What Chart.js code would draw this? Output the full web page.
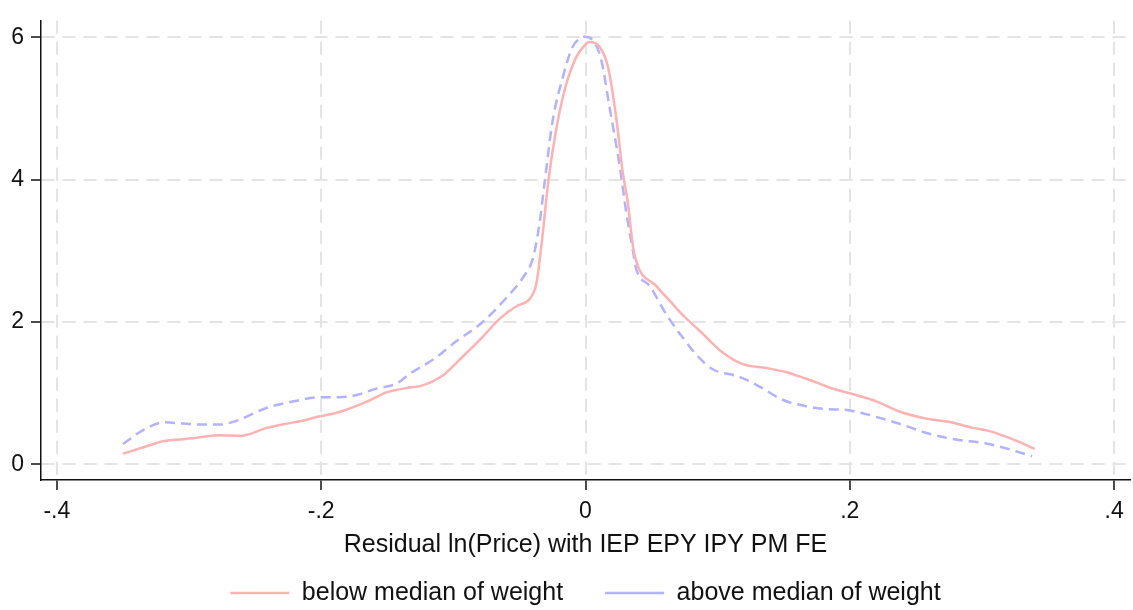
<!DOCTYPE html>
<html>
<head>
<meta charset="utf-8">
<script src="https://cdn.jsdelivr.net/npm/chart.js@4"></script>
<style>
  body { margin: 0; background: #fff; }
  canvas { display: block; }
</style>
</head>
<body>
<canvas id="canvas" width="1133" height="610"></canvas>
<script>
// kernel density, below median of weight
const belowX = [-0.350, -0.335, -0.319, -0.304, -0.292, -0.277, -0.261, -0.241, -0.226, -0.214,
  -0.201, -0.186, -0.166, -0.151, -0.141, -0.133, -0.125, -0.108, -0.095, -0.080,
  -0.065, -0.052, -0.038, -0.033, -0.028, -0.022, -0.015, -0.007, -0.001, 0.003,
  0.011, 0.017, 0.023, 0.028, 0.032, 0.035, 0.037, 0.054, 0.064, 0.074,
  0.086, 0.104, 0.119, 0.137, 0.152, 0.167, 0.177, 0.185, 0.200, 0.220,
  0.238, 0.260, 0.275, 0.293, 0.306, 0.323, 0.340];
const belowY = [0.150, 0.236, 0.327, 0.354, 0.381, 0.409, 0.399, 0.512, 0.572, 0.613,
  0.675, 0.735, 0.876, 1.008, 1.053, 1.080, 1.098, 1.247, 1.475, 1.747,
  2.043, 2.224, 2.473, 3.132, 3.994, 4.720, 5.311, 5.720, 5.878, 5.932,
  5.856, 5.584, 4.903, 4.130, 3.680, 3.200, 2.950, 2.496, 2.292, 2.088,
  1.883, 1.566, 1.407, 1.352, 1.294, 1.202, 1.134, 1.076, 0.998, 0.885,
  0.739, 0.635, 0.599, 0.512, 0.467, 0.354, 0.218];

// kernel density, above median of weight
const aboveX = [-0.350, -0.335, -0.319, -0.304, -0.289, -0.277, -0.264, -0.241, -0.221, -0.201,
  -0.186, -0.173, -0.158, -0.143, -0.133, -0.115, -0.098, -0.078, -0.060, -0.047,
  -0.040, -0.035, -0.031, -0.025, -0.017, -0.010, -0.003, -0.001, 0.006, 0.012,
  0.018, 0.026, 0.031, 0.036, 0.038, 0.049, 0.061, 0.074, 0.086, 0.096,
  0.117, 0.132, 0.149, 0.167, 0.180, 0.200, 0.217, 0.238, 0.260, 0.280,
  0.303, 0.318, 0.338];
const aboveY = [0.286, 0.477, 0.590, 0.572, 0.558, 0.558, 0.613, 0.794, 0.885, 0.944,
  0.944, 0.975, 1.066, 1.134, 1.271, 1.475, 1.724, 1.996, 2.337, 2.632,
  2.882, 3.358, 3.949, 4.811, 5.447, 5.856, 5.992, 6.006, 5.946, 5.673,
  5.039, 4.175, 3.520, 2.990, 2.770, 2.496, 2.110, 1.770, 1.498, 1.339,
  1.226, 1.089, 0.907, 0.817, 0.780, 0.757, 0.681, 0.567, 0.430, 0.349,
  0.294, 0.226, 0.113];

const seriesNames = ["below median of weight", "above median of weight"];
const xTicks = [-0.4, -0.2, 0, 0.2, 0.4];
const yTicks = [0, 2, 4, 6];
const xTitle = "Residual ln(Price) with IEP EPY IPY PM FE";

const FONT = "'Liberation Sans', Arial, sans-serif";
const ink = "#111";
const gridGrey = "#e4e4e4";

function toPoints(xs, ys) {
    return xs.map((x, i) => ({ x: x, y: ys[i] }));
}

// Stata style labels: -.4, -.2, 0, .2, .4
function stataLabel(v) {
    if (v === 0) return "0";
    return String(Math.round(v * 10) / 10).replace("0.", ".");
}

const ctx = document.getElementById("canvas").getContext("2d");

new Chart(ctx, {
    type: "line",
    data: {
        datasets: [{
            label: seriesNames[0],
            data: toPoints(belowX, belowY),
            borderColor: "rgb(255, 178, 178)",
            borderWidth: 2.5,
            pointRadius: 0,
            fill: false,
            cubicInterpolationMode: "monotone"
        }, {
            label: seriesNames[1],
            data: toPoints(aboveX, aboveY),
            borderColor: "rgb(178, 178, 255)",
            borderWidth: 2.5,
            borderDash: [10, 6],
            pointRadius: 0,
            fill: false,
            cubicInterpolationMode: "monotone"
        }]
    },
    options: {
        responsive: false,
        animation: false,
        devicePixelRatio: 1,
        layout: {
            padding: { left: 0, right: 3, top: 6, bottom: 0 }
        },
        plugins: {
            tooltip: { enabled: false },
            legend: {
                position: "bottom",
                fullSize: false,
                maxHeight: 71.5,
                labels: {
                    usePointStyle: true,
                    pointStyle: "line",
                    pointStyleWidth: 59,
                    padding: 42,
                    color: ink,
                    font: { family: FONT, size: 25 }
                }
            }
        },
        scales: {
            x: {
                type: "linear",
                min: -0.412,
                max: 0.412,
                afterBuildTicks: (scale) => {
                    scale.ticks = xTicks.map(v => ({ value: v }));
                },
                afterFit: (scale) => {
                    scale.height = 58.5;
                },
                grid: {
                    color: gridGrey,
                    lineWidth: 2,
                    tickColor: ink,
                    tickWidth: 1.5,
                    tickLength: 10,
                    tickBorderDash: []
                },
                border: {
                    display: true,
                    color: ink,
                    width: 1.5,
                    dash: [13, 8]
                },
                ticks: {
                    color: ink,
                    padding: 8,
                    maxRotation: 0,
                    autoSkip: false,
                    font: { family: FONT, size: 23 },
                    callback: (v) => stataLabel(v)
                },
                title: {
                    display: true,
                    text: xTitle,
                    color: ink,
                    font: { family: FONT, size: 25 },
                    padding: { top: 0, bottom: -21.5 }
                }
            },
            y: {
                type: "linear",
                min: -0.22,
                max: 6.23,
                afterBuildTicks: (scale) => {
                    scale.ticks = yTicks.map(v => ({ value: v }));
                },
                afterFit: (scale) => {
                    scale.width = 41;
                },
                grid: {
                    color: gridGrey,
                    lineWidth: 2,
                    tickColor: ink,
                    tickWidth: 1.5,
                    tickLength: 10,
                    tickBorderDash: []
                },
                border: {
                    display: true,
                    color: ink,
                    width: 1.5,
                    dash: [13, 8]
                },
                ticks: {
                    color: ink,
                    padding: 7,
                    font: { family: FONT, size: 23 },
                    callback: (v) => String(v)
                }
            }
        }
    }
});
</script>
</body>
</html>
